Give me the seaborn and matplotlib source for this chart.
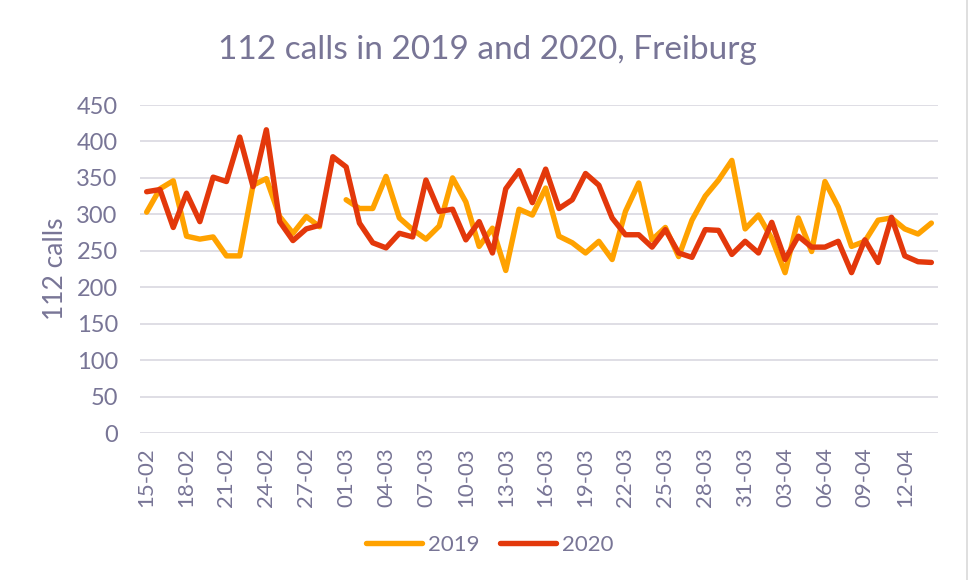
import numpy as np
import pandas as pd
import seaborn as sns
import matplotlib
matplotlib.use("Agg")
import matplotlib.pyplot as plt
from matplotlib.lines import Line2D
import datetime as dt

# ---- data ----
dates = [(dt.date(2020, 2, 15) + dt.timedelta(days=i)).strftime("%d-%m") for i in range(60)]

calls_2019 = [303, 335, 346, 270, 266, 269, 243, 243, 340, 349,
              297, 274, 297, 283, np.nan, 320, 308, 308, 352, 295,
              279, 266, 284, 350, 317, 256, 281, 223, 307, 299,
              336, 270, 261, 247, 263, 238, 304, 343, 265, 282,
              242, 292, 325, 347, 374, 280, 299, 267, 220, 295,
              249, 345, 310, 256, 263, 292, 295, 280, 273, 288]

calls_2020 = [331, 334, 282, 329, 290, 351, 345, 406, 338, 416,
              290, 264, 280, 285, 379, 365, 288, 261, 254, 274,
              269, 347, 304, 307, 265, 290, 247, 335, 360, 316,
              362, 308, 320, 356, 340, 295, 272, 272, 255, 279,
              247, 241, 279, 278, 245, 263, 247, 289, 238, 270,
              255, 255, 263, 220, 265, 234, 296, 243, 235, 234]

years = ["2019", "2020"]
colors = {"2019": "#FFA200", "2020": "#E3380B"}
text_color = "#787596"
grid_color = "#DCDBE3"

rows = []
for yr, vals in zip(years, [calls_2019, calls_2020]):
    seg = 0
    for i, v in enumerate(vals):
        if v is None or (isinstance(v, float) and np.isnan(v)):
            seg += 1
            continue
        rows.append({"idx": i, "calls": v, "year": yr, "seg": f"{yr}-{seg}"})
df = pd.DataFrame(rows)

sns.set_theme(style="white")
plt.rcParams["font.family"] = ["Lato", "DejaVu Sans"]

fig = plt.figure(figsize=(9.7, 5.8), dpi=100)
ax = fig.add_axes([140 / 970, 1 - 433 / 580, (938 - 140) / 970, (433 - 105) / 580])

sns.lineplot(data=df, x="idx", y="calls", hue="year", units="seg", estimator=None,
             palette=colors, linewidth=3.9, ax=ax, legend=False, sort=True)

ax.set_xlim(-0.5, 59.5)
ax.set_ylim(0, 450)
ax.set_yticks(np.arange(0, 451, 50))
ax.set_xticks(range(0, 60, 3))
ax.set_xticklabels([dates[i] for i in range(0, 60, 3)], rotation=90)
ax.tick_params(axis="x", colors=text_color, labelsize=16, length=0, pad=10)
ax.tick_params(axis="y", colors=text_color, labelsize=17, length=0, pad=16)
for lbl in ax.get_xticklabels() + ax.get_yticklabels():
    lbl.set_color(text_color)

ax.yaxis.grid(True, color=grid_color, linewidth=1.3)
ax.xaxis.grid(False)
ax.set_axisbelow(True)
for s in ax.spines.values():
    s.set_visible(False)

ax.set_xlabel("")
ax.set_ylabel("112 calls", color=text_color, fontsize=19, labelpad=6)

fig.text(487 / 970, 1 - 50 / 580, "112 calls in 2019 and 2020, Freiburg",
         ha="center", va="center", fontsize=24, color=text_color)

handles = [Line2D([0], [0], color=colors[y], linewidth=3.9, solid_capstyle="round") for y in years]
fig.legend(handles, years, loc="center", bbox_to_anchor=(490 / 970, 1 - 545 / 580),
           ncol=2, frameon=False, fontsize=16, labelcolor=text_color,
           handlelength=2.5, columnspacing=0.9, handletextpad=0.3)

fig.add_artist(Line2D([967 / 970, 967 / 970], [0, 1], transform=fig.transFigure,
                      color="#D9D9D9", linewidth=1.2))

fig.savefig("out.png", dpi=100, facecolor="white")
